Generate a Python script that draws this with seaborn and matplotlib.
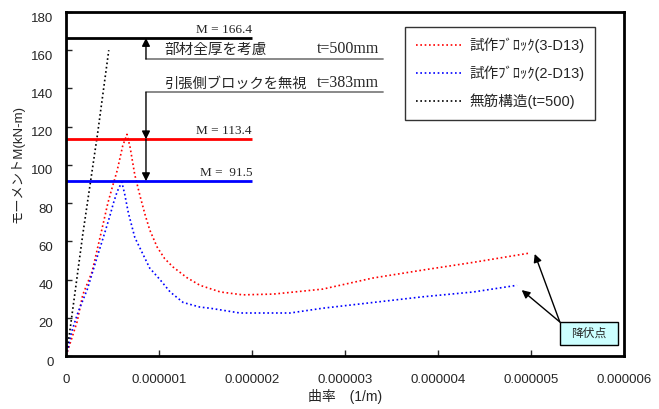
import matplotlib
matplotlib.use('Agg')
import matplotlib.pyplot as plt
import matplotlib.transforms as mtransforms
from matplotlib.patches import Rectangle
from matplotlib.ticker import FuncFormatter
import seaborn as sns
import pandas as pd

# データ (曲率は 1e-6 単位)
red_x = [0, 0.04, 0.12, 0.18, 0.28, 0.38, 0.45, 0.49, 0.55, 0.61, 0.656, 0.69, 0.74, 0.80, 0.85,
         0.90, 0.98, 1.06, 1.15, 1.30, 1.44, 1.66, 1.90, 2.23, 2.76, 3.30, 3.84, 4.38, 4.99]
red_y = [0, 6, 18, 32, 44, 65, 80, 87, 97, 110, 116, 109, 94.7, 83, 74,
         66, 57, 51, 46.6, 41, 37, 33.5, 32, 32.4, 35, 40.8, 45, 49, 53.9]
blue_x = [0, 0.02, 0.06, 0.13, 0.23, 0.33, 0.42, 0.47, 0.51, 0.55, 0.60, 0.63, 0.67, 0.74, 0.82,
          0.90, 1.01, 1.12, 1.26, 1.44, 1.55, 1.87, 2.41, 2.76, 3.30, 3.84, 4.38, 4.85]
blue_y = [0, 3.7, 12.6, 23, 35, 51, 65, 73, 80, 86, 91, 85, 75, 62, 54,
          46, 40, 33.5, 28, 25.6, 25, 22.5, 22.5, 25, 28, 31, 33.5, 37]
black_x = [0, 0.04, 0.18, 0.34, 0.46]
black_y = [0, 12.6, 63.5, 116.5, 160]

series_names = ['試作ﾌﾞﾛｯｸ(3-D13)', '試作ﾌﾞﾛｯｸ(2-D13)', '無筋構造(t=500)']
series_colors = ['red', 'blue', 'black']

m_values = [166.4, 113.4, 91.5]
m_labels = ['M = 166.4', 'M = 113.4', 'M =  91.5']
m_colors = ['black', 'red', 'blue']

x_ticks = [0, 1, 2, 3, 4, 5, 6]
y_ticks = [0, 20, 40, 60, 80, 100, 120, 140, 160, 180]

frames = []
for name, xs, ys in zip(series_names, [red_x, blue_x, black_x], [red_y, blue_y, black_y]):
    frames.append(pd.DataFrame({'curv': [v * 1e-6 for v in xs], 'M': ys, 'series': name}))
df = pd.concat(frames, ignore_index=True)

sns.set_style('ticks')
plt.rcParams['font.family'] = ['Liberation Sans', 'Noto Sans CJK JP']
serif = ['Liberation Serif', 'Noto Sans CJK JP']
jp = ['Noto Sans CJK JP']

fig = plt.figure(figsize=(6.59, 4.09), dpi=100)
ax = fig.add_axes([66 / 659, 1 - 356 / 409, (624 - 66) / 659, (356 - 12) / 409])

sns.lineplot(data=df, x='curv', y='M', hue='series', hue_order=series_names,
             palette=series_colors, sort=False, estimator=None, ax=ax,
             linewidth=1.2, linestyle=(0, (1, 1.6)))

# 水平線
for val, lab, col in zip(m_values, m_labels, m_colors):
    ax.plot([0, 2e-6], [val, val], color=col, lw=2, solid_capstyle='butt')
    ax.text(2e-6, val + 1.2, lab, ha='right', va='bottom', fontsize=9.5, family=serif)

# 注記
gx = 0.86e-6
ax.plot([gx, 3.41e-6], [155.4, 155.4], color='gray', lw=1.3)
ax.plot([gx, 3.41e-6], [138, 138], color='gray', lw=1.3)
ax.text(1.06e-6, 156.3, '部材全厚を考慮', fontsize=10.5, va='bottom', family=jp)
ax.text(2.70e-6, 156.3, 't=500mm', fontsize=11.5, va='bottom', family=serif)
ax.text(1.06e-6, 138.9, '引張側ブロックを無視', fontsize=10.3, va='bottom', family=jp)
ax.text(2.70e-6, 138.9, 't=383mm', fontsize=11.5, va='bottom', family=serif)
arw = dict(arrowstyle='-|>', color='black', lw=1, mutation_scale=12, shrinkA=0, shrinkB=0)
ax.annotate('', xy=(gx, 166.4), xytext=(gx, 155.4), arrowprops=arw)
ax.annotate('', xy=(gx, 113.4), xytext=(gx, 138), arrowprops=arw)
ax.annotate('', xy=(gx, 91.5), xytext=(gx, 113.4), arrowprops=arw)

# 降伏点
ax.annotate('', xy=(5.04e-6, 53.4), xytext=(5.31e-6, 17.8), arrowprops=arw)
ax.annotate('', xy=(4.90e-6, 34.5), xytext=(5.31e-6, 17.8), arrowprops=arw)
ax.add_patch(Rectangle((5.31e-6, 5.8), 0.63e-6, 12.0, facecolor='#ccffff',
                       edgecolor='black', lw=1, zorder=3))
ax.text(5.625e-6, 11.8, '降伏点', ha='center', va='center', fontsize=8.5,
        family=jp, zorder=4)

ax.set_xlim(0, 6e-6)
ax.set_ylim(0, 180)
ax.set_xticks([t * 1e-6 for t in x_ticks])
ax.set_yticks(y_ticks)
ax.xaxis.set_major_formatter(FuncFormatter(lambda v, p: '0' if v == 0 else f'{v:.6f}'))
ax.tick_params(direction='in', length=4, width=1, labelsize=9.5)
ax.tick_params(axis='x', pad=13)
ax.tick_params(axis='y', pad=9)
off = mtransforms.ScaledTranslation(0, -5 / 100, fig.dpi_scale_trans)
for lab in ax.get_yticklabels():
    lab.set_transform(lab.get_transform() + off)
for sp in ax.spines.values():
    sp.set_visible(True)
    sp.set_linewidth(2)
    sp.set_color('black')

ax.set_xlabel('曲率　(1/m)', fontsize=10, labelpad=2)
ax.set_ylabel('モーメントM(kN-m)', fontsize=9.5)
ax.yaxis.set_label_coords((25 - 66) / 558, (356 - 164) / 344)

leg = ax.legend(loc='upper left', bbox_to_anchor=((405 - 66) / 558, (356 - 27) / 344),
                frameon=True, fancybox=False, fontsize=10.5, handlelength=3.2,
                borderpad=0.75, labelspacing=0.85, handletextpad=0.45, borderaxespad=0)
leg.get_frame().set_edgecolor('black')
leg.get_frame().set_linewidth(1)

fig.savefig('out.png', dpi=100)
